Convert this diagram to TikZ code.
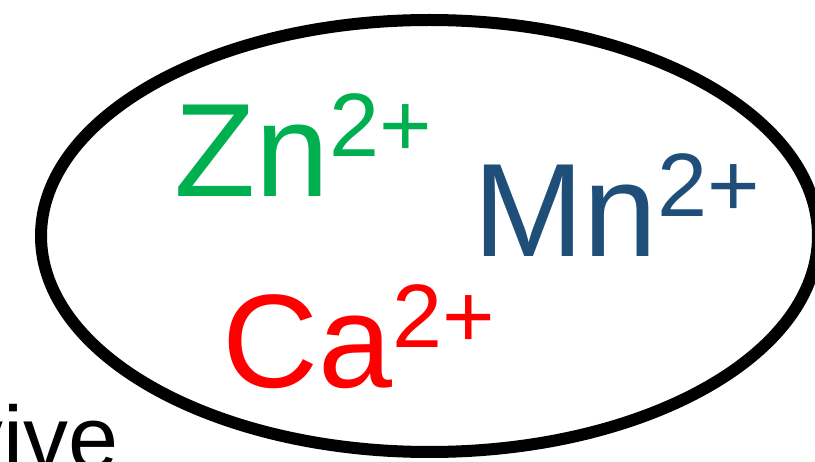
\documentclass[tikz,border=0pt]{standalone}
\usetikzlibrary{shapes.geometric}
\usepackage{fontspec}
\setmainfont{Liberation Sans}
\definecolor{zngreen}{HTML}{00B050}
\definecolor{mnblue}{HTML}{1F4E79}
\definecolor{cared}{HTML}{FF0000}
\newcommand{\ionlabel}[2]{{\fontsize{133}{133}\selectfont #1\raisebox{40pt}{\fontsize{90}{90}\selectfont #2}}}
\begin{document}
\begin{tikzpicture}[x=1pt,y=-1pt,
  ion/.style={inner sep=0pt, outer sep=0pt, anchor=base west},
  cell/.style={draw=black, line width=12pt, ellipse, inner sep=0pt}]
\useasboundingbox (0,0) rectangle (815,462);
\clip (0,0) rectangle (815,462);
\node[cell, minimum width=777pt, minimum height=432pt] (shell) at (429.5,236) {};
\node[ion, text=zngreen] (zn) at (174.5,197) {\ionlabel{Zn}{2+}};
\node[ion, text=mnblue] (mn) at (473,257) {\ionlabel{Mn}{2+}};
\node[ion, text=cared] (ca) at (222,388) {\ionlabel{Ca}{2+}};
\node[inner sep=0pt, anchor=base east, font=\fontsize{90}{90}\selectfont] (word) at (119,470) {vive};
\end{tikzpicture}
\end{document}
